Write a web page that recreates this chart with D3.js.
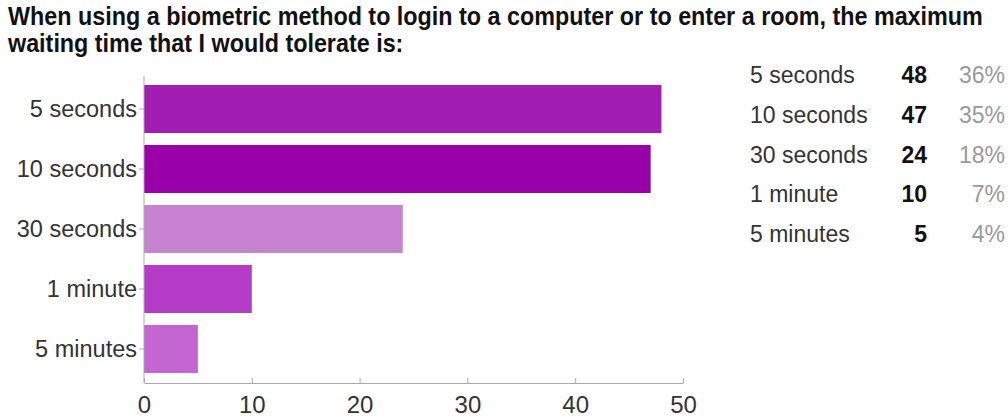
<!DOCTYPE html>
<html><head><meta charset="utf-8">
<script src="https://cdn.jsdelivr.net/npm/d3@7"></script>
<style>body{margin:0;background:#fff}svg{display:block}</style>
</head><body>
<svg id="c" width="1008" height="419"></svg>
<script>
const categories = ["5 seconds","10 seconds","30 seconds","1 minute","5 minutes"];
const counts = [48,47,24,10,5];
const percents = ["36%","35%","18%","7%","4%"];
const barColors = ["#a21eb2","#9900a8","#c882d2","#b43cc6","#c466d2"];
const xTicks = [0,10,20,30,40,50];
const titleLines = ["When using a biometric method to login to a computer or to enter a room, the maximum","waiting time that I would tolerate is:"];

const svg = d3.select("#c");
const font = "'Liberation Sans', Arial, sans-serif";

// Title (condensed bold)
const tg = svg.append("g");
const t1 = tg.append("text").attr("x",0).attr("y",25)
  .attr("font-family",font).attr("font-weight","bold").attr("font-size",25.5)
  .attr("fill","#111").text(titleLines[0]);
const w = t1.node().getComputedTextLength();
const sx = 975/w;
tg.attr("transform",`translate(8,0) scale(${sx},1)`);
tg.append("text").attr("x",0).attr("y",52)
  .attr("font-family",font).attr("font-weight","bold").attr("font-size",25.5)
  .attr("fill","#111").text(titleLines[1]);

const x = d3.scaleLinear().domain([0,50]).range([144,683]);
const y = d3.scaleBand().domain(categories).range([79,379]).paddingInner(0.2).paddingOuter(0.1);

// bars
svg.append("g").selectAll("rect").data(categories).join("rect")
  .attr("x",x(0)).attr("y",d=>y(d))
  .attr("width",(d,i)=>x(counts[i])-x(0)).attr("height",y.bandwidth())
  .attr("fill",(d,i)=>barColors[i]);

// y axis
const ya = svg.append("g").attr("transform",`translate(${x(0)},0)`)
  .call(d3.axisLeft(y).tickSize(5).tickPadding(2));
ya.select(".domain").attr("d","M0,76V383").attr("stroke","#aaa");
ya.selectAll(".tick line").attr("stroke","#aaa");
ya.selectAll("text").attr("font-family",font).attr("font-size",23.5).attr("fill","#333");

// x axis
const xa = svg.append("g").attr("transform","translate(0,383)")
  .call(d3.axisBottom(x).tickValues(xTicks).tickSize(5).tickPadding(8).tickSizeOuter(0));
xa.select(".domain").attr("stroke","#aaa");
xa.selectAll(".tick line").attr("stroke","#aaa").attr("y1",-5).attr("y2",0);
xa.selectAll("text").attr("font-family",font).attr("font-size",24).attr("fill","#333");

// summary table
const rowY = d3.scaleLinear().domain([0,4]).range([83,242]);
const tbl = svg.append("g").attr("font-family",font).attr("font-size",23);
categories.forEach((c,i)=>{
  tbl.append("text").attr("x",750).attr("y",rowY(i)).attr("fill","#333").text(c);
  tbl.append("text").attr("x",927).attr("y",rowY(i)).attr("text-anchor","end")
    .attr("font-weight","bold").attr("fill","#111").text(counts[i]);
  tbl.append("text").attr("x",1005).attr("y",rowY(i)).attr("text-anchor","end")
    .attr("fill","#999").text(percents[i]);
});
</script>
</body></html>
